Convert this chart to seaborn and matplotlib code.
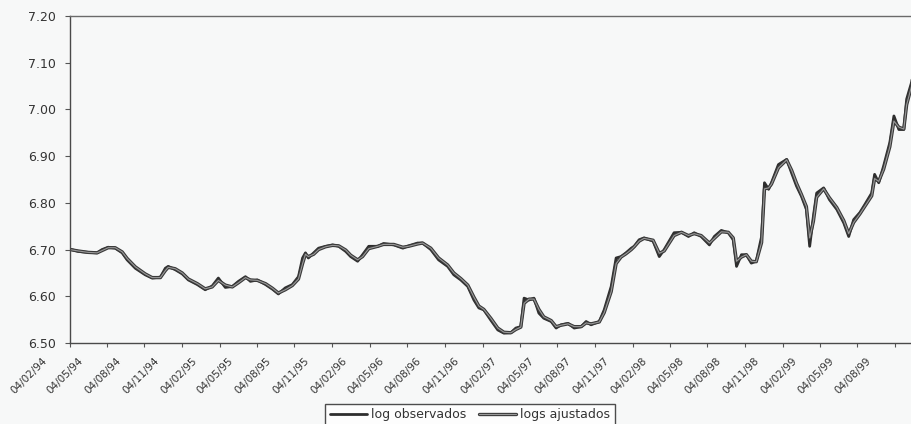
import matplotlib
matplotlib.use("Agg")
import matplotlib.pyplot as plt
import matplotlib.patheffects as pe
from matplotlib.transforms import ScaledTranslation
import pandas as pd
import seaborn as sns

# Weekly log series (observed and fitted)
fechas = [
    "1994-02-04", "1994-02-24", "1994-03-20", "1994-04-11", "1994-04-23", "1994-05-08",
    "1994-05-25", "1994-06-11", "1994-06-23", "1994-07-13", "1994-08-06", "1994-08-23",
    "1994-09-12", "1994-09-24", "1994-10-01", "1994-10-18", "1994-11-04", "1994-11-19",
    "1994-12-11", "1994-12-30", "1995-01-16", "1995-01-31", "1995-02-17", "1995-03-06",
    "1995-03-21", "1995-04-07", "1995-04-19", "1995-05-06", "1995-05-26", "1995-06-12",
    "1995-06-26", "1995-07-13", "1995-07-30", "1995-08-14", "1995-08-24", "1995-08-31",
    "1995-09-07", "1995-09-20", "1995-10-02", "1995-10-19", "1995-11-05", "1995-11-20",
    "1995-12-07", "1995-12-19", "1996-01-05", "1996-01-17", "1996-02-01", "1996-02-23",
    "1996-03-08", "1996-04-02", "1996-04-24", "1996-05-08", "1996-05-30", "1996-06-11",
    "1996-07-01", "1996-07-20", "1996-08-11", "1996-08-26", "1996-09-12", "1996-09-29",
    "1996-10-14", "1996-10-26", "1996-11-07", "1996-11-24", "1996-12-11", "1996-12-26",
    "1997-01-12", "1997-01-24", "1997-02-05", "1997-02-13", "1997-02-25", "1997-03-09",
    "1997-03-21", "1997-04-02", "1997-04-20", "1997-05-02", "1997-05-14", "1997-05-31",
    "1997-06-15", "1997-07-02", "1997-07-14", "1997-07-26", "1997-08-15", "1997-08-27",
    "1997-09-13", "1997-09-25", "1997-10-07", "1997-10-19", "1997-11-01", "1997-11-08",
    "1997-11-20", "1997-12-02", "1997-12-24", "1998-01-08", "1998-01-20", "1998-02-13",
    "1998-03-03", "1998-03-20", "1998-04-03", "1998-04-20", "1998-05-10", "1998-05-22",
    "1998-06-08", "1998-06-25", "1998-07-07", "1998-07-15", "1998-07-27", "1998-08-08",
    "1998-08-20", "1998-09-01", "1998-09-14", "1998-09-21", "1998-10-01", "1998-10-08",
    "1998-10-25", "1998-11-14", "1998-11-26", "1998-12-08", "1998-12-20", "1999-01-01",
    "1999-01-09", "1999-01-18", "1999-01-26", "1999-02-12", "1999-02-26", "1999-03-16",
    "1999-04-02", "1999-04-14", "1999-04-26", "1999-05-11", "1999-05-23", "1999-06-09",
    "1999-06-16", "1999-06-26", "1999-07-08", "1999-07-23", "1999-08-02", "1999-08-14",
    "1999-08-26", "1999-09-02", "1999-09-14", "1999-09-17",
]

log_observados = [
    6.701, 6.696, 6.694, 6.693, 6.700, 6.705,
    6.703, 6.693, 6.678, 6.660, 6.646, 6.639,
    6.641, 6.660, 6.664, 6.657, 6.648, 6.635,
    6.625, 6.614, 6.622, 6.639, 6.619, 6.621,
    6.632, 6.642, 6.632, 6.635, 6.625, 6.615,
    6.605, 6.618, 6.625, 6.642, 6.682, 6.693,
    6.682, 6.693, 6.703, 6.707, 6.710, 6.707,
    6.696, 6.685, 6.675, 6.689, 6.707, 6.707,
    6.713, 6.710, 6.703, 6.708, 6.714, 6.714,
    6.700, 6.678, 6.664, 6.646, 6.635, 6.621,
    6.592, 6.575, 6.571, 6.549, 6.528, 6.521,
    6.522, 6.532, 6.535, 6.596, 6.592, 6.596,
    6.564, 6.553, 6.546, 6.532, 6.539, 6.542,
    6.532, 6.535, 6.546, 6.539, 6.546, 6.571,
    6.621, 6.682, 6.685, 6.693, 6.703, 6.707,
    6.721, 6.725, 6.718, 6.685, 6.700, 6.736,
    6.737, 6.728, 6.736, 6.728, 6.710, 6.728,
    6.741, 6.736, 6.721, 6.664, 6.689, 6.689,
    6.671, 6.675, 6.728, 6.843, 6.829, 6.843,
    6.882, 6.893, 6.864, 6.836, 6.814, 6.786,
    6.707, 6.771, 6.821, 6.832, 6.807, 6.786,
    6.757, 6.728, 6.764, 6.779, 6.796, 6.821,
    6.861, 6.843, 6.879, 6.929, 6.986, 6.957,
    6.957, 7.022, 7.058, 7.075,
]

logs_ajustados = [
    6.700, 6.697, 6.694, 6.693, 6.698, 6.704,
    6.704, 6.695, 6.681, 6.663, 6.648, 6.640,
    6.640, 6.655, 6.662, 6.659, 6.650, 6.637,
    6.627, 6.616, 6.620, 6.634, 6.624, 6.620,
    6.629, 6.640, 6.635, 6.634, 6.627, 6.617,
    6.607, 6.614, 6.623, 6.637, 6.670, 6.690,
    6.685, 6.690, 6.700, 6.706, 6.709, 6.708,
    6.699, 6.688, 6.678, 6.685, 6.702, 6.707,
    6.711, 6.711, 6.705, 6.707, 6.712, 6.714,
    6.703, 6.682, 6.667, 6.650, 6.638, 6.624,
    6.598, 6.579, 6.572, 6.553, 6.532, 6.523,
    6.522, 6.529, 6.534, 6.585, 6.594, 6.594,
    6.572, 6.556, 6.548, 6.535, 6.538, 6.541,
    6.535, 6.535, 6.543, 6.541, 6.545, 6.565,
    6.610, 6.670, 6.684, 6.691, 6.700, 6.706,
    6.718, 6.724, 6.720, 6.692, 6.697, 6.730,
    6.737, 6.730, 6.734, 6.730, 6.714, 6.724,
    6.738, 6.737, 6.725, 6.675, 6.684, 6.689,
    6.675, 6.674, 6.715, 6.830, 6.832, 6.840,
    6.875, 6.892, 6.870, 6.842, 6.818, 6.792,
    6.725, 6.760, 6.812, 6.830, 6.811, 6.790,
    6.762, 6.734, 6.758, 6.776, 6.792, 6.815,
    6.852, 6.846, 6.872, 6.920, 6.975, 6.962,
    6.958, 7.010, 7.050, 7.070,
]

tick_fechas = [
    "1994-02-04", "1994-05-04", "1994-08-04", "1994-11-04",
    "1995-02-04", "1995-05-04", "1995-08-04", "1995-11-04",
    "1996-02-04", "1996-05-04", "1996-08-04", "1996-11-04",
    "1997-02-04", "1997-05-04", "1997-08-04", "1997-11-04",
    "1998-02-04", "1998-05-04", "1998-08-04", "1998-11-04",
    "1999-02-04", "1999-05-04", "1999-08-04",
]
tick_etiquetas = [
    "04/02/94", "04/05/94", "04/08/94", "04/11/94",
    "04/02/95", "04/05/95", "04/08/95", "04/11/95",
    "04/02/96", "04/05/96", "04/08/96", "04/11/96",
    "04/02/97", "04/05/97", "04/08/97", "04/11/97",
    "04/02/98", "04/05/98", "04/08/98", "04/11/98",
    "04/02/99", "04/05/99", "04/08/99",
]
y_ticks = [6.50, 6.60, 6.70, 6.80, 6.90, 7.00, 7.10, 7.20]

fondo = "#f7f8f8"
tinta = "#333333"

sns.set_theme(style="white")
plt.rcParams["font.family"] = ["DejaVu Sans"]

df = pd.DataFrame({
    "fecha": pd.to_datetime(fechas),
    "log observados": log_observados,
    "logs ajustados": logs_ajustados,
})

W, H = 911, 424
fig = plt.figure(figsize=(W / 100, H / 100), dpi=100)
fig.patch.set_facecolor(fondo)
ax = fig.add_axes([70 / W, 1 - 343 / H, 1 - 70 / W + 0.002, (343 - 16) / H])
ax.set_facecolor(fondo)

sns.lineplot(data=df, x="fecha", y="log observados", ax=ax,
             color="#2e2e2e", linewidth=2.0, label="log observados")
sns.lineplot(data=df, x="fecha", y="logs ajustados", ax=ax,
             color="#9a9a9a", linewidth=0.8, label="logs ajustados",
             path_effects=[pe.Stroke(linewidth=2.4, foreground="#3a3a3a"), pe.Normal()])

ax.set_xlim(pd.Timestamp("1994-02-04"), pd.Timestamp("1999-09-17"))
ax.set_ylim(6.50, 7.20)
ax.set_xlabel("")
ax.set_ylabel("")

ax.set_yticks(y_ticks)
ax.set_yticklabels([f"{v:.2f}" for v in y_ticks])
ax.tick_params(axis="y", left=True, length=3.5, width=0.8, color="#555555",
               pad=6.5, labelsize=9, labelcolor=tinta)

ax.set_xticks(pd.to_datetime(tick_fechas))
ax.set_xticklabels(tick_etiquetas)
ax.tick_params(axis="x", bottom=True, length=3, width=0.8, color="#555555",
               pad=2, labelsize=7.5, labelcolor=tinta)
shift = ScaledTranslation(-25 / 100, -9 / 100, fig.dpi_scale_trans)
for lbl in ax.get_xticklabels():
    lbl.set_rotation(45)
    lbl.set_ha("right")
    lbl.set_va("center")
    lbl.set_rotation_mode("anchor")
    lbl.set_transform(lbl.get_transform() + shift)

for side in ["left", "bottom", "top"]:
    ax.spines[side].set_visible(True)
    ax.spines[side].set_color("#4a4a4a")
    ax.spines[side].set_linewidth(1.0)
ax.spines["top"].set_color("#6a6a6a")
ax.spines["right"].set_visible(False)

leg = ax.legend(loc="upper center", bbox_to_anchor=(470 / W, 1 - 404 / H),
                bbox_transform=fig.transFigure, ncol=2, frameon=True,
                fancybox=False, fontsize=9, handlelength=3.0,
                handletextpad=0.3, columnspacing=1.0, borderpad=0.35,
                borderaxespad=0)
leg.get_frame().set_edgecolor("#222222")
leg.get_frame().set_linewidth(1.0)
leg.get_frame().set_facecolor("white")
for t in leg.get_texts():
    t.set_color(tinta)

fig.savefig("out.png", dpi=100, facecolor=fondo)
